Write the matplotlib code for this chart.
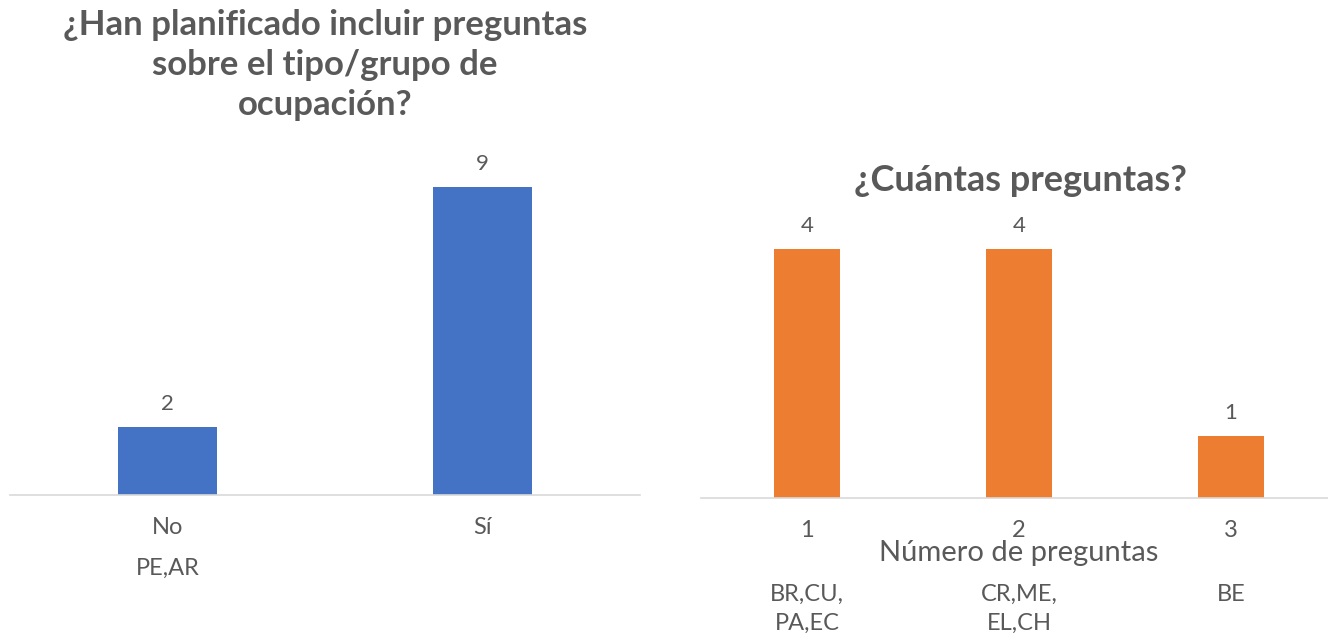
import matplotlib.pyplot as plt
import matplotlib.transforms as mtransforms

# left chart data
answers = ['No', 'Sí']
answer_counts = [2, 9]
answer_codes = ['PE,AR', '']

# right chart data
n_questions = ['1', '2', '3']
question_counts = [4, 4, 1]
question_codes = ['BR,CU,\nPA,EC', 'CR,ME,\nEL,CH', 'BE']

TEXT = '#595959'
GRID = '#d9d9d9'
plt.rcParams['font.family'] = ['Lato', 'DejaVu Sans']

W, H = 1328, 637
fig = plt.figure(figsize=(W / 100, H / 100), dpi=100)


def style(ax):
    for s in ['top', 'right', 'left']:
        ax.spines[s].set_visible(False)
    ax.spines['bottom'].set_color(GRID)
    ax.spines['bottom'].set_linewidth(1.2)
    ax.set_yticks([])
    ax.tick_params(axis='x', length=0, colors=TEXT, labelsize=17, pad=16)


# left chart
ax1 = fig.add_axes([10 / W, 142 / H, 630 / W, 345 / H])
x1 = range(len(answers))
bars1 = ax1.bar(x1, answer_counts, width=0.315, color='#4472C4')
ax1.bar_label(bars1, padding=9, fontsize=16, color=TEXT)
ax1.set_xlim(-0.5, 1.5)
ax1.set_ylim(0, 345 / (308 / 9))
ax1.set_xticks(list(x1))
ax1.set_xticklabels(answers)
style(ax1)
tr1 = mtransforms.blended_transform_factory(ax1.transData, ax1.transAxes)
for i, c in enumerate(answer_codes):
    ax1.text(i, -73 / 345, c, transform=tr1, ha='center', va='center',
             fontsize=17, color=TEXT)

fig.text(325 / W, 1 - 65 / H,
         '¿Han planificado incluir preguntas\nsobre el tipo/grupo de\nocupación?',
         ha='center', va='center', fontsize=25, fontweight='bold',
         color=TEXT, linespacing=1.3)

# right chart
ax2 = fig.add_axes([701 / W, 139 / H, 636 / W, 298 / H])
x2 = range(len(n_questions))
bars2 = ax2.bar(x2, question_counts, width=0.31, color='#ED7D31')
ax2.bar_label(bars2, padding=9, fontsize=16, color=TEXT)
ax2.set_xlim(-0.5, 2.5)
ax2.set_ylim(0, 298 / (249 / 4))
ax2.set_xticks(list(x2))
ax2.set_xticklabels(n_questions)
style(ax2)
ax2.set_xlabel('Número de preguntas', fontsize=21, color=TEXT, va='center')
ax2.xaxis.set_label_coords(0.5, -55 / 298)
tr2 = mtransforms.blended_transform_factory(ax2.transData, ax2.transAxes)
for i, c in enumerate(question_codes):
    ax2.text(i, -86 / 298, c, transform=tr2, ha='center', va='top',
             fontsize=17, color=TEXT, linespacing=1.45)

fig.text(1020 / W, 1 - 180 / H, '¿Cuántas preguntas?',
         ha='center', va='center', fontsize=26, fontweight='bold', color=TEXT)

fig.savefig('out.png', dpi=100)
